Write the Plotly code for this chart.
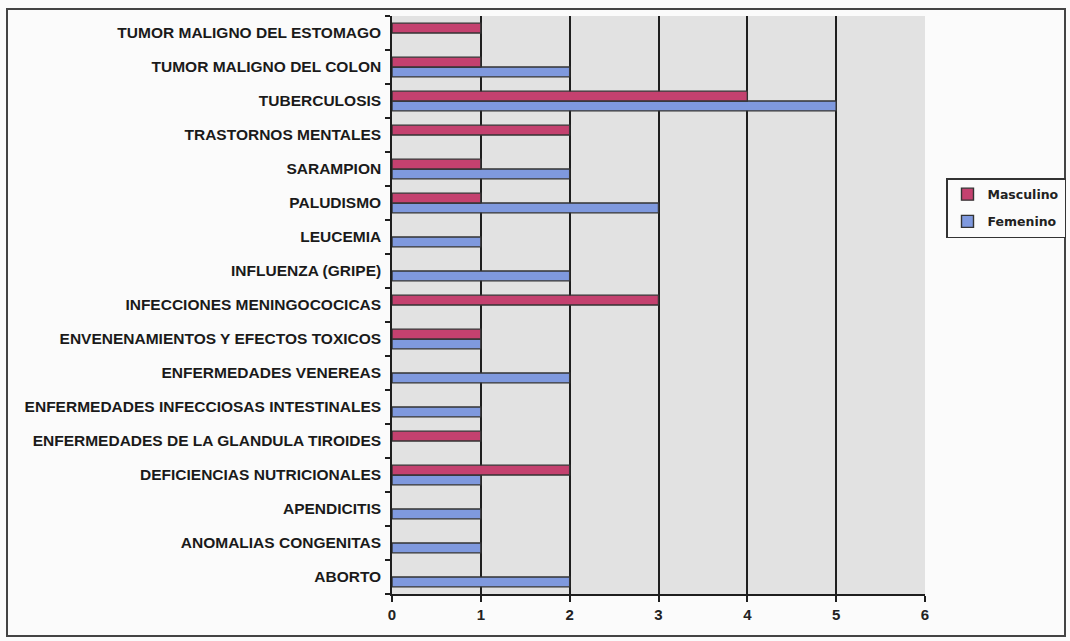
import plotly.graph_objects as go

categories = [
    "ABORTO",
    "ANOMALIAS CONGENITAS",
    "APENDICITIS",
    "DEFICIENCIAS NUTRICIONALES",
    "ENFERMEDADES DE LA GLANDULA TIROIDES",
    "ENFERMEDADES INFECCIOSAS INTESTINALES",
    "ENFERMEDADES VENEREAS",
    "ENVENENAMIENTOS Y EFECTOS TOXICOS",
    "INFECCIONES MENINGOCOCICAS",
    "INFLUENZA (GRIPE)",
    "LEUCEMIA",
    "PALUDISMO",
    "SARAMPION",
    "TRASTORNOS MENTALES",
    "TUBERCULOSIS",
    "TUMOR MALIGNO DEL COLON",
    "TUMOR MALIGNO DEL ESTOMAGO",
]
masculino = [0, 0, 0, 2, 1, 0, 0, 1, 3, 0, 0, 1, 1, 2, 4, 1, 1]
femenino = [2, 1, 1, 1, 0, 1, 2, 1, 0, 2, 1, 3, 2, 0, 5, 2, 0]
x_ticks = [0, 1, 2, 3, 4, 5, 6]

RED = "#C4416F"
BLUE = "#7F99DE"
OUTLINE = "#333333"


def nz(vals):
    # zero-valued bars are not drawn in the reference
    return [v if v else None for v in vals]


fig = go.Figure()
fig.add_trace(go.Bar(
    y=categories, x=nz(femenino), name="Femenino", orientation="h",
    legendgroup="f", legendrank=2,
    marker=dict(color=BLUE, line=dict(color=OUTLINE, width=1.4)),
))
fig.add_trace(go.Bar(
    y=categories, x=nz(masculino), name="Masculino", orientation="h",
    legendgroup="m", legendrank=1,
    marker=dict(color=RED, line=dict(color=OUTLINE, width=1.4)),
))

L, R, T, B = 392, 145, 16, 47
PW = 1070 - L - R
PH = 641 - T - B
fig.update_layout(
    width=1070, height=641,
    margin=dict(l=L, r=R, t=T, b=B, pad=0, autoexpand=False),
    barmode="group",
    bargap=0.42,
    bargroupgap=0,
    paper_bgcolor="#fbfbfb",
    plot_bgcolor="#e2e2e2",
    font=dict(family="Liberation Sans", color="#1a1a1a"),
    showlegend=True,
    legend=dict(
        x=(946 - L) / PW, y=(641 - B - 178) / PH,
        xanchor="left", yanchor="top",
        traceorder="grouped",
        bgcolor="#fbfbfb", bordercolor="#333333", borderwidth=1.5,
        font=dict(family="DejaVu Sans", size=12.5, weight="bold", color="#222222"),
        itemwidth=30, tracegroupgap=8,
    ),
    xaxis=dict(
        range=[0, 6], tickvals=x_ticks, ticktext=[str(v) for v in x_ticks],
        showgrid=True, gridcolor="#1e1e1e", gridwidth=1.5,
        showline=True, linecolor="#1e1e1e", linewidth=1.5,
        ticks="outside", ticklen=6, tickcolor="#1e1e1e", tickwidth=1.5,
        tickfont=dict(family="Liberation Sans", size=15, weight="bold", color="#222222"),
        zeroline=False, fixedrange=True, automargin=False,
    ),
    yaxis=dict(
        categoryorder="array", categoryarray=categories,
        showline=True, linecolor="#1e1e1e", linewidth=1.5,
        ticks="outside", ticklen=5, tickcolor="#1e1e1e", tickwidth=1.5,
        tickson="boundaries",
        tickfont=dict(family="Liberation Sans", size=15.5, weight="bold", color="#1a1a1a"),
        showgrid=False, fixedrange=True, ticklabelstandoff=6, automargin=False,
    ),
)

# outer chart frame
fig.add_shape(type="rect", xref="paper", yref="paper",
              x0=(7 - L) / PW, x1=(1065 - L) / PW,
              y0=(641 - B - 636) / PH, y1=(641 - B - 9) / PH,
              line=dict(color="#444444", width=2), layer="below")

fig.write_html("out.html")
